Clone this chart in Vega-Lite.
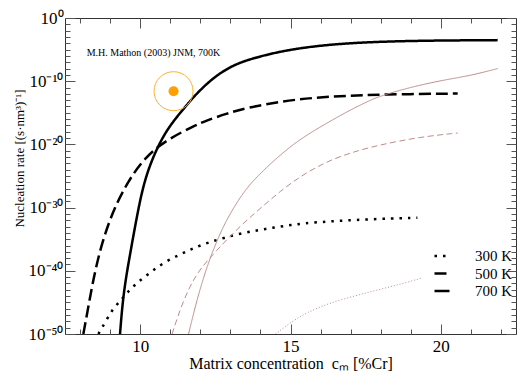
{
  "$schema": "https://vega.github.io/schema/vega-lite/v6.json",
  "width": 451,
  "height": 316,
  "autosize": "none",
  "padding": {"left": 65, "top": 18, "right": 3, "bottom": 40},
  "background": "white",
  "config": {
    "font": "Liberation Serif",
    "view": {"stroke": "#333", "strokeWidth": 1},
    "axis": {"grid": false, "domain": false, "tickColor": "#555", "tickWidth": 1, "labelFont": "Liberation Serif", "titleFont": "Liberation Serif", "labelColor": "black", "titleColor": "black", "titleFontWeight": "normal"}
  },
  "datasets": {
    "black": [
      {"T": "300 K", "c": 8.61, "logJ": -50}, {"T": "300 K", "c": 8.89, "logJ": -47.7}, {"T": "300 K", "c": 9.11, "logJ": -45.9},
      {"T": "300 K", "c": 9.39, "logJ": -44.5}, {"T": "300 K", "c": 9.56, "logJ": -43.5}, {"T": "300 K", "c": 9.89, "logJ": -41.9},
      {"T": "300 K", "c": 10.33, "logJ": -40.3}, {"T": "300 K", "c": 10.78, "logJ": -38.7}, {"T": "300 K", "c": 11.33, "logJ": -37.4},
      {"T": "300 K", "c": 11.78, "logJ": -36.4}, {"T": "300 K", "c": 12.28, "logJ": -35.5}, {"T": "300 K", "c": 12.78, "logJ": -34.8},
      {"T": "300 K", "c": 13.33, "logJ": -34.1}, {"T": "300 K", "c": 13.89, "logJ": -33.6}, {"T": "300 K", "c": 14.39, "logJ": -33.2},
      {"T": "300 K", "c": 14.94, "logJ": -32.8}, {"T": "300 K", "c": 15.44, "logJ": -32.5}, {"T": "300 K", "c": 16.22, "logJ": -32.2},
      {"T": "300 K", "c": 17.5, "logJ": -31.85}, {"T": "300 K", "c": 19.22, "logJ": -31.6},
      {"T": "500 K", "c": 8.11, "logJ": -50}, {"T": "500 K", "c": 8.28, "logJ": -45.6}, {"T": "500 K", "c": 8.44, "logJ": -41.4},
      {"T": "500 K", "c": 8.67, "logJ": -36.6}, {"T": "500 K", "c": 8.94, "logJ": -32.6}, {"T": "500 K", "c": 9.22, "logJ": -29.3},
      {"T": "500 K", "c": 9.61, "logJ": -25.8}, {"T": "500 K", "c": 10.0, "logJ": -23.1}, {"T": "500 K", "c": 10.44, "logJ": -20.9},
      {"T": "500 K", "c": 11.0, "logJ": -19.0}, {"T": "500 K", "c": 11.78, "logJ": -17.1}, {"T": "500 K", "c": 12.22, "logJ": -16.2},
      {"T": "500 K", "c": 12.89, "logJ": -15.1}, {"T": "500 K", "c": 13.56, "logJ": -14.2}, {"T": "500 K", "c": 14.67, "logJ": -13.2},
      {"T": "500 K", "c": 15.78, "logJ": -12.6}, {"T": "500 K", "c": 16.89, "logJ": -12.3}, {"T": "500 K", "c": 18.0, "logJ": -12.1},
      {"T": "500 K", "c": 20.56, "logJ": -11.95},
      {"T": "700 K", "c": 9.33, "logJ": -50}, {"T": "700 K", "c": 9.44, "logJ": -43.5}, {"T": "700 K", "c": 9.67, "logJ": -37.2},
      {"T": "700 K", "c": 9.89, "logJ": -31.4}, {"T": "700 K", "c": 10.11, "logJ": -26.3}, {"T": "700 K", "c": 10.39, "logJ": -22.4},
      {"T": "700 K", "c": 10.72, "logJ": -19.1}, {"T": "700 K", "c": 11.0, "logJ": -17.0}, {"T": "700 K", "c": 11.33, "logJ": -15.0},
      {"T": "700 K", "c": 11.67, "logJ": -13.1}, {"T": "700 K", "c": 11.89, "logJ": -11.9}, {"T": "700 K", "c": 12.44, "logJ": -9.4},
      {"T": "700 K", "c": 13.0, "logJ": -7.7}, {"T": "700 K", "c": 13.56, "logJ": -6.6}, {"T": "700 K", "c": 14.67, "logJ": -5.25},
      {"T": "700 K", "c": 15.78, "logJ": -4.45}, {"T": "700 K", "c": 16.89, "logJ": -4.0}, {"T": "700 K", "c": 18.0, "logJ": -3.75},
      {"T": "700 K", "c": 19.11, "logJ": -3.62}, {"T": "700 K", "c": 20.22, "logJ": -3.55}, {"T": "700 K", "c": 21.89, "logJ": -3.5}
    ],
    "mauve": [
      {"T": "300 K", "c": 14.5, "logJ": -50}, {"T": "300 K", "c": 15.11, "logJ": -47.8}, {"T": "300 K", "c": 15.56, "logJ": -46.6},
      {"T": "300 K", "c": 16.22, "logJ": -45.2}, {"T": "300 K", "c": 17.33, "logJ": -43.7}, {"T": "300 K", "c": 18.44, "logJ": -42.4},
      {"T": "300 K", "c": 19.33, "logJ": -41.2},
      {"T": "500 K", "c": 11.06, "logJ": -50}, {"T": "500 K", "c": 11.44, "logJ": -44.5}, {"T": "500 K", "c": 11.89, "logJ": -40.3},
      {"T": "500 K", "c": 12.33, "logJ": -37.9}, {"T": "500 K", "c": 12.89, "logJ": -35.0}, {"T": "500 K", "c": 13.56, "logJ": -31.9},
      {"T": "500 K", "c": 14.22, "logJ": -29.2}, {"T": "500 K", "c": 14.67, "logJ": -27.4}, {"T": "500 K", "c": 15.11, "logJ": -25.8},
      {"T": "500 K", "c": 15.6, "logJ": -24.3}, {"T": "500 K", "c": 16.22, "logJ": -22.7}, {"T": "500 K", "c": 17.0, "logJ": -21.3},
      {"T": "500 K", "c": 17.93, "logJ": -20.1}, {"T": "500 K", "c": 19.33, "logJ": -18.8}, {"T": "500 K", "c": 20.56, "logJ": -18.2},
      {"T": "700 K", "c": 11.61, "logJ": -50}, {"T": "700 K", "c": 11.89, "logJ": -44.5}, {"T": "700 K", "c": 12.22, "logJ": -39.3},
      {"T": "700 K", "c": 12.61, "logJ": -34.5}, {"T": "700 K", "c": 13.0, "logJ": -30.8}, {"T": "700 K", "c": 13.5, "logJ": -27.1},
      {"T": "700 K", "c": 14.0, "logJ": -24.5}, {"T": "700 K", "c": 15.11, "logJ": -19.7}, {"T": "700 K", "c": 16.22, "logJ": -16.6},
      {"T": "700 K", "c": 16.89, "logJ": -14.8}, {"T": "700 K", "c": 17.56, "logJ": -13.2}, {"T": "700 K", "c": 18.0, "logJ": -12.3},
      {"T": "700 K", "c": 19.11, "logJ": -10.8}, {"T": "700 K", "c": 20.22, "logJ": -9.7}, {"T": "700 K", "c": 21.0, "logJ": -9.1},
      {"T": "700 K", "c": 21.89, "logJ": -8.0}
    ],
    "exp": [
      {"c": 11.11, "logJ": -11.58, "label": "M.H. Mathon (2003) JNM, 700K", "lc": 8.22, "ly": -5.46}
    ]
  },
  "resolve": {"scale": {"strokeDash": "independent"}, "axis": {"x": "independent", "y": "independent"}},
  "layer": [
    {
      "data": {"name": "black"},
      "mark": {"type": "line", "color": "black", "strokeWidth": 2.5, "strokeCap": "butt", "interpolate": "basis", "clip": true},
      "encoding": {
        "x": {"field": "c", "type": "quantitative", "scale": {"domain": [7.5, 22.5], "nice": false, "zero": false},
          "axis": {"orient": "bottom", "values": [8,9,10,11,12,13,14,15,16,17,18,19,20,21,22],
            "labelExpr": "datum.value % 5 === 0 ? datum.value : ''",
            "tickSize": {"condition": {"test": "datum.value % 5 === 0", "value": -10}, "value": -5},
            "labelPadding": 14, "labelFontSize": 17, "labelFlush": false,
            "title": "Matrix concentration\u00a0 cₘ [%Cr]", "titleFontSize": 16, "titleBaseline": "alphabetic", "titleY": 34}},
        "y": {"field": "logJ", "type": "quantitative", "scale": {"domain": [-50, 0], "nice": false, "zero": false},
          "axis": {"orient": "left", "values": [-50,-49,-48,-47,-46,-45,-44,-43,-42,-41,-40,-39,-38,-37,-36,-35,-34,-33,-32,-31,-30,-29,-28,-27,-26,-25,-24,-23,-22,-21,-20,-19,-18,-17,-16,-15,-14,-13,-12,-11,-10,-9,-8,-7,-6,-5,-4,-3,-2,-1,0],
            "labelExpr": "datum.value == 0 ? '10⁰' : datum.value == -10 ? '10⁻¹⁰' : datum.value == -20 ? '10⁻²⁰' : datum.value == -30 ? '10⁻³⁰' : datum.value == -40 ? '10⁻⁴⁰' : datum.value == -50 ? '10⁻⁵⁰' : ''",
            "tickSize": {"condition": {"test": "datum.value % 10 === 0", "value": -10}, "value": -5},
            "labelPadding": 12, "labelFontSize": 17, "labelFlush": false,
            "title": "Nucleation rate [(s·nm³)⁻¹]", "titleFontSize": 13, "titleX": -42, "titleY": 140, "titleAngle": -90, "titleBaseline": "alphabetic"}},
        "strokeDash": {"field": "T", "type": "nominal",
          "scale": {"domain": ["300 K", "500 K", "700 K"], "range": [[2.5, 6], [12, 5], [1, 0]]},
          "legend": {"title": null, "orient": "none", "legendX": 368, "legendY": 229, "symbolType": "stroke", "symbolSize": 225,
            "symbolStrokeColor": "black", "symbolStrokeWidth": 2.5, "labelFont": "Liberation Serif", "labelFontSize": 15,
            "labelOffset": 24, "rowPadding": 0.5, "labelColor": "black"}}
      }
    },
    {
      "data": {"name": "mauve"},
      "mark": {"type": "line", "color": "#bd8c8c", "strokeWidth": 1, "strokeCap": "butt", "interpolate": "basis", "clip": true},
      "encoding": {
        "x": {"field": "c", "type": "quantitative",
          "axis": {"orient": "top", "values": [8,9,10,11,12,13,14,15,16,17,18,19,20,21,22], "labels": false, "title": null,
            "tickSize": {"condition": {"test": "datum.value % 5 === 0", "value": -10}, "value": -5}}},
        "y": {"field": "logJ", "type": "quantitative",
          "axis": {"orient": "right", "values": [-50,-49,-48,-47,-46,-45,-44,-43,-42,-41,-40,-39,-38,-37,-36,-35,-34,-33,-32,-31,-30,-29,-28,-27,-26,-25,-24,-23,-22,-21,-20,-19,-18,-17,-16,-15,-14,-13,-12,-11,-10,-9,-8,-7,-6,-5,-4,-3,-2,-1,0],
            "labels": false, "title": null,
            "tickSize": {"condition": {"test": "datum.value % 10 === 0", "value": -10}, "value": -5}}},
        "strokeDash": {"field": "T", "type": "nominal",
          "scale": {"domain": ["300 K", "500 K", "700 K"], "range": [[1, 2], [6, 3.5], [1, 0]]}, "legend": null}
      }
    },
    {
      "data": {"name": "exp"},
      "mark": {"type": "point", "filled": false, "size": 1521, "stroke": "#f7b23b", "strokeWidth": 1, "opacity": 1},
      "encoding": {
        "x": {"field": "c", "type": "quantitative", "axis": null},
        "y": {"field": "logJ", "type": "quantitative", "axis": null}
      }
    },
    {
      "data": {"name": "exp"},
      "mark": {"type": "circle", "size": 100, "color": "#ffa000", "opacity": 1},
      "encoding": {
        "x": {"field": "c", "type": "quantitative", "axis": null},
        "y": {"field": "logJ", "type": "quantitative", "axis": null}
      }
    },
    {
      "data": {"name": "exp"},
      "mark": {"type": "text", "align": "left", "baseline": "middle", "fontSize": 10, "font": "Liberation Serif", "color": "black"},
      "encoding": {
        "x": {"field": "lc", "type": "quantitative", "axis": null},
        "y": {"field": "ly", "type": "quantitative", "axis": null},
        "text": {"field": "label"}
      }
    }
  ]
}
